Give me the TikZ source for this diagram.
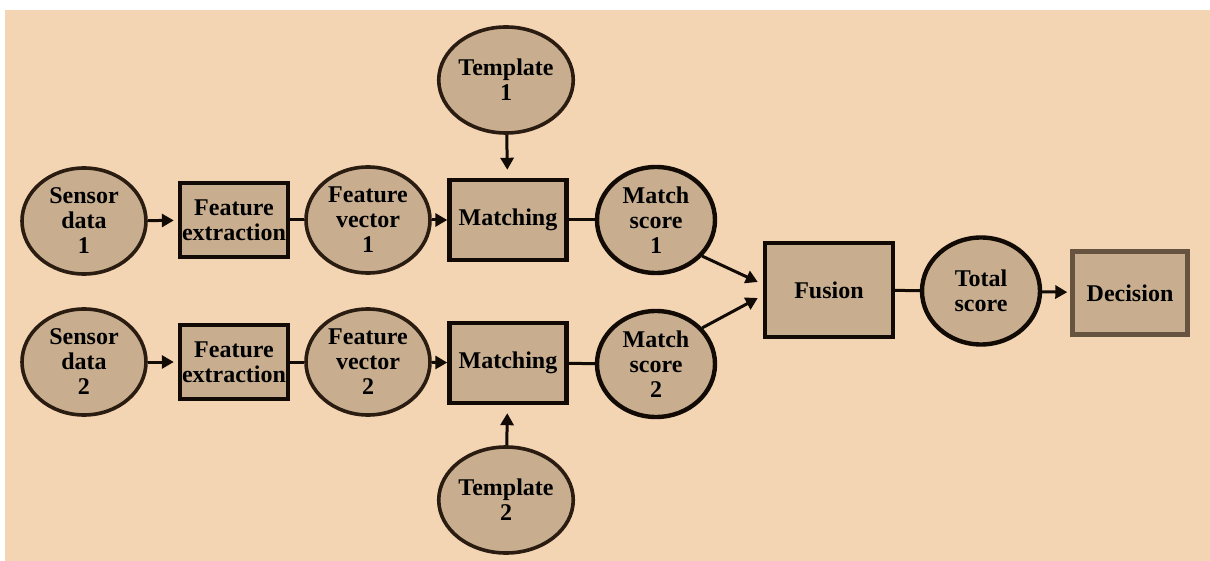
\documentclass[tikz,border=0pt]{standalone}
\usepackage{fontspec}
\setmainfont{Liberation Serif}
\usetikzlibrary{shapes.geometric,arrows.meta,calc}
\definecolor{bg}{HTML}{F4D5B3}
\definecolor{nodefill}{HTML}{C8AE8F}
\definecolor{ringline}{HTML}{2A1C10}
\definecolor{boxline}{HTML}{120A04}
\definecolor{softline}{HTML}{665440}
\begin{document}
\begin{tikzpicture}[x=0.5pt,y=-0.5pt,
  every node/.style={font=\fontsize{12}{12.5}\selectfont\bfseries, align=center, inner sep=0pt, text=black},
  ring/.style={ellipse, draw=ringline, line width=1.8pt, fill=nodefill, minimum width=62pt, minimum height=53pt},
  scorering/.style={ellipse, draw=boxline, line width=2.2pt, fill=nodefill, minimum width=59pt, minimum height=53pt},
  stagebox/.style={rectangle, draw=boxline, line width=2.2pt, fill=nodefill},
  link/.style={draw=boxline, line width=1.5pt},
  flow/.style={link, -{Triangle[length=6pt,width=6.5pt]}}
]
% page and backdrop
\useasboundingbox (0,0) rectangle (1210,561);
\fill[white] (0,0) rectangle (1210,561);
\fill[bg] (5,10) rectangle (1210,561);

% channel 1
\node[ring] (s1) at (84,221) {Sensor\\data\\1};
\node[stagebox, minimum width=54pt, minimum height=37pt] (fe1) at (234,220) {Feature\\extraction};
\node[ring] (fv1) at (368,220) {Feature\\vector\\1};
\node[stagebox, minimum width=58.5pt, minimum height=40pt] (m1) at (508,220) {Matching};
\node[ring, minimum width=61pt] (t1) at (506,80) {Template\\1};
\node[scorering] (ms1) at (656,220) {Match\\score\\1};

% channel 2
\node[ring] (s2) at (84,362) {Sensor\\data\\2};
\node[stagebox, minimum width=54pt, minimum height=37pt] (fe2) at (234,362) {Feature\\extraction};
\node[ring] (fv2) at (368,362) {Feature\\vector\\2};
\node[stagebox, minimum width=58.5pt, minimum height=40pt] (m2) at (508,363) {Matching};
\node[ring, minimum width=61pt] (t2) at (506,500) {Template\\2};
\node[scorering] (ms2) at (656,364) {Match\\score\\2};

% fusion stage
\node[stagebox, minimum width=64pt, minimum height=47pt] (fu) at (829,290) {Fusion};
\node[scorering, minimum height=53.5pt] (ts) at (981,291) {Total\\score};
\node[stagebox, draw=softline, minimum width=57.5pt, minimum height=41.5pt] (de) at (1130,293) {Decision};

% connectors, channel 1
\draw[flow, shorten >=2pt] (s1) -- (fe1);
\draw[link] (fe1) -- (fv1);
\draw[flow] (fv1) -- (m1);
\draw[flow, shorten >=4pt] (t1) -- (m1);
\draw[link] (m1) -- (ms1);

% connectors, channel 2
\draw[flow, shorten >=2pt] (s2) -- (fe2);
\draw[link] (fe2) -- (fv2);
\draw[flow] (fv2) -- (m2);
\draw[flow, shorten >=4pt] (t2) -- (m2);
\draw[link] (m2) -- (ms2);

% into fusion and on to the decision
\coordinate (in1) at ($(fu.west)+(-5,-8)$);
\coordinate (in2) at ($(fu.west)+(-5,8)$);
\draw[flow] (ms1.-38) -- (in1);
\draw[flow] (ms2.38) -- (in2);
\draw[link] (fu) -- (ts);
\draw[flow, shorten >=1.5pt] (ts) -- (de);
\end{tikzpicture}
\end{document}
